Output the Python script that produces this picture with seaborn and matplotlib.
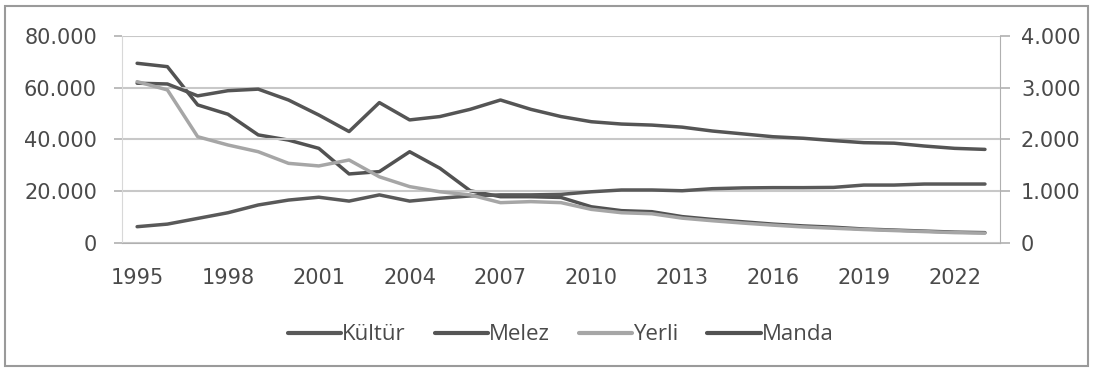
import numpy as np
import pandas as pd
from matplotlib import pyplot as plt
from matplotlib.ticker import FuncFormatter, FixedLocator
import matplotlib.patches as mpatches
import seaborn as sns

years = list(range(1995, 2024))

# left axis series
kultur = [6.2, 7.2, 9.4, 11.6, 14.6, 16.5, 17.6, 16.1, 18.5, 16.1, 17.2, 18.1, 18.5, 18.5, 18.7,
          19.7, 20.4, 20.4, 20.1, 20.9, 21.2, 21.3, 21.3, 21.4, 22.3, 22.3, 22.7, 22.7, 22.7]
melez = [61.7, 61.4, 56.8, 58.8, 59.4, 55.2, 49.4, 43.0, 54.2, 47.5, 48.8, 51.6, 55.2, 51.6, 48.8,
         46.8, 45.9, 45.5, 44.7, 43.2, 42.1, 41.0, 40.4, 39.5, 38.7, 38.5, 37.4, 36.5, 36.1]
yerli = [62.3, 59.1, 41.0, 37.8, 35.2, 30.7, 29.7, 32.0, 25.5, 21.7, 19.7, 18.5, 15.5, 15.9, 15.5,
         12.9, 11.6, 11.2, 9.5, 8.5, 7.6, 6.8, 6.1, 5.6, 5.1, 4.7, 4.3, 3.9, 3.7]
# right axis series
manda = [3470, 3405, 2665, 2485, 2085, 1985, 1825, 1330, 1375, 1760, 1440, 1005, 890, 890, 875,
         695, 620, 600, 505, 450, 405, 360, 325, 300, 265, 245, 225, 205, 195]

names = ['Kültür', 'Melez', 'Yerli', 'Manda']
colors = ['#595959', '#555555', '#a6a6a6', '#525252']

df = pd.DataFrame({'Yıl': years * 3,
                   'Değer': [v * 1000 for v in kultur + melez + yerli],
                   'Tür': ['Kültür'] * 29 + ['Melez'] * 29 + ['Yerli'] * 29})
df_manda = pd.DataFrame({'Yıl': years, 'Değer': manda})

sns.set_style('white')
plt.rcParams['font.family'] = ['DejaVu Sans']

fig = plt.figure(figsize=(10.93, 3.70), dpi=100)
ax = fig.add_axes([0.1116, 0.344, 0.8034, 0.559])
ax2 = ax.twinx()

ax.set_zorder(2)
ax.patch.set_visible(False)

sns.lineplot(data=df, x='Yıl', y='Değer', hue='Tür', palette=dict(zip(names[:3], colors[:3])),
             linewidth=2.5, ax=ax, legend=False)
sns.lineplot(data=df_manda, x='Yıl', y='Değer', color=colors[3], linewidth=2.5, ax=ax2, legend=False)

for a in (ax, ax2):
    a.set_xlim(1994.5, 2023.5)
    a.set_xlabel('')
    a.set_ylabel('')
ax.set_ylim(0, 80000)
ax2.set_ylim(0, 4000)
ax.set_yticks([0, 20000, 40000, 60000, 80000])
ax2.set_yticks([0, 1000, 2000, 3000, 4000])

fmt = FuncFormatter(lambda v, p: '0' if v == 0 else '{:,.0f}'.format(v).replace(',', '.'))
ax.yaxis.set_major_formatter(fmt)
ax2.yaxis.set_major_formatter(fmt)

ax.set_xticks(years[::3])
ax.xaxis.set_minor_locator(FixedLocator([y + 0.5 for y in range(1994, 2024)]))
ax.tick_params(axis='x', which='major', length=0, pad=18, labelsize=15, labelcolor='#4a4a4a')
ax.tick_params(axis='x', which='minor', length=6, color='#b0b0b0', width=1.2, direction='out')
ax.tick_params(axis='y', length=6, color='#b0b0b0', width=1.2, labelsize=15, labelcolor='#4a4a4a', pad=12)
ax2.tick_params(axis='y', length=7, color='#b0b0b0', width=1.2, labelsize=15, labelcolor='#4a4a4a', pad=8)
ax2.tick_params(axis='x', length=0, labelbottom=False)

ax.grid(axis='y', color='#c8c8c8', linewidth=1.5)
for a in (ax, ax2):
    for s in a.spines.values():
        s.set_visible(False)
ax.spines['bottom'].set_visible(True)
ax.spines['bottom'].set_color('#b0b0b0')
ax.spines['left'].set_visible(True)
ax.spines['left'].set_color('#d8d8d8')
ax2.spines['right'].set_visible(True)
ax2.spines['right'].set_color('#b0b0b0')

handles = [plt.Line2D([], [], color=c, linewidth=3) for c in colors]
fig.legend(handles, names, loc='center', bbox_to_anchor=(0.513, 0.095), ncol=4, frameon=False,
           prop={'family': 'Open Sans', 'size': 16}, handlelength=2.4, handletextpad=0.05,
           columnspacing=1.3, labelcolor='#4a4a4a')

fig.patches.append(mpatches.Rectangle((0.005, 0.01), 0.99, 0.975, transform=fig.transFigure,
                                      fill=False, edgecolor='#9a9a9a', linewidth=1.5))

fig.savefig('out.png', dpi=100)
